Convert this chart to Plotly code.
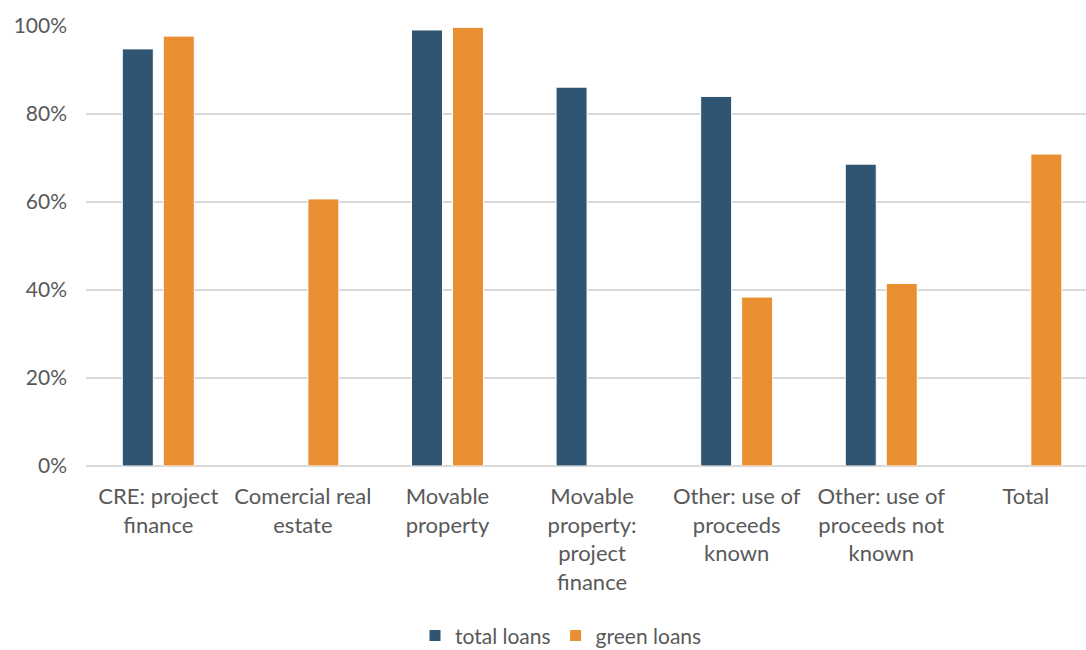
import plotly.graph_objects as go

categories = [
    "CRE: project<br>finance",
    "Comercial real<br>estate",
    "Movable<br>property",
    "Movable<br>property:<br>project<br>finance",
    "Other: use of<br>proceeds<br>known",
    "Other: use of<br>proceeds not<br>known",
    "Total",
]
total_loans = [94.8, None, 99.1, 86.1, 84.0, 68.6, None]
green_loans = [97.7, 60.7, 99.7, None, 38.4, 41.5, 70.9]
y_ticks = [0, 20, 40, 60, 80, 100]
y_tick_labels = ["0%", "20%", "40%", "60%", "80%", "100%"]

FONT = "Lato"
GREY = "#595959"

x_idx = list(range(len(categories)))

fig = go.Figure()
fig.add_trace(go.Bar(
    x=x_idx, y=total_loans, name="total loans",
    marker=dict(color="#2F5572", line=dict(color="#ffffff", width=1)),
))
fig.add_trace(go.Bar(
    x=x_idx, y=green_loans, name="green loans",
    marker=dict(color="#E98F32", line=dict(color="#ffffff", width=1)),
))

fig.update_layout(
    width=1086, height=650,
    margin=dict(l=86, r=0, t=26, b=184, autoexpand=False),
    paper_bgcolor="white", plot_bgcolor="white",
    barmode="group", bargap=0.433, bargroupgap=0.244,
    font=dict(family=FONT, size=21, color=GREY),
    showlegend=True,
    legend=dict(
        orientation="h", x=0.475, xanchor="center", y=-0.386, yanchor="middle",
        font=dict(family=FONT, size=21, color=GREY),
        itemwidth=30, traceorder="normal",
    ),
)
fig.update_xaxes(
    tickmode="array", tickvals=x_idx, ticktext=categories,
    range=[-0.5, 6.416], showgrid=False, zeroline=False, showline=False,
    ticks="", tickfont=dict(family=FONT, size=22, color=GREY),
    ticklabelstandoff=15, fixedrange=True, automargin=False,
)
fig.update_yaxes(
    range=[0, 100], tickmode="array", tickvals=y_ticks, ticktext=y_tick_labels,
    showgrid=True, gridcolor="#D9D9D9", gridwidth=1.5,
    zeroline=True, zerolinecolor="#D9D9D9", zerolinewidth=1.5,
    showline=False, ticks="", tickfont=dict(family=FONT, size=21, color=GREY),
    ticklabelstandoff=18, fixedrange=True, automargin=False,
)

fig.write_html("out.html")
